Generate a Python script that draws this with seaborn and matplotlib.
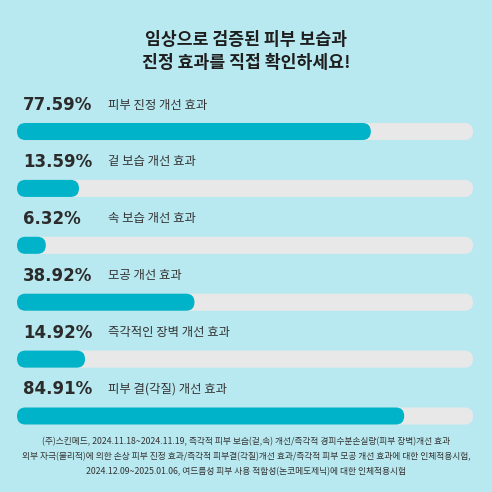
import numpy as np
import pandas as pd
import seaborn as sns
import matplotlib
matplotlib.use("Agg")
import matplotlib.pyplot as plt
from matplotlib.patches import FancyBboxPatch
from matplotlib import transforms

# data
labels = ['피부 진정 개선 효과', '겉 보습 개선 효과', '속 보습 개선 효과',
          '모공 개선 효과', '즉각적인 장벽 개선 효과', '피부 결(각질) 개선 효과']
values = [77.59, 13.59, 6.32, 38.92, 14.92, 84.91]
title_lines = ['임상으로 검증된 피부 보습과', '진정 효과를 직접 확인하세요!']
notes = ['(주)스킨메드, 2024.11.18~2024.11.19, 즉각적 피부 보습(겉,속) 개선/즉각적 경피수분손실량(피부 장벽)개선 효과',
         '외부 자극(물리적)에 의한 손상 피부 진정 효과/즉각적 피부결(각질)개선 효과/즉각적 피부 모공 개선 효과에 대한 인체적용시험,',
         '2024.12.09~2025.01.06, 여드름성 피부 사용 적합성(논코메도제닉)에 대한 인체적용시험']

BG = '#b9e9f0'
FILL = '#00b3c8'
TRACK = '#e8e8e8'
KR = ['Noto Sans CJK KR', 'DejaVu Sans']

sns.set_theme(style='white')
plt.rcParams['font.family'] = KR

W = H = 492
fig = plt.figure(figsize=(4.92, 4.92), dpi=100, facecolor=BG)

# axes placed so that bars sit where the reference has them
x0, x1 = 17, 473
y_first, y_last = 131.5, 416
step = (y_last - y_first) / 5
top_px = y_first - step * 0.5
bot_px = y_last + step * 0.5
ax = fig.add_axes([x0 / W, 1 - bot_px / H, (x1 - x0) / W, (bot_px - top_px) / H])
ax.set_facecolor('none')

df = pd.DataFrame({'label': labels, 'value': values, 'full': [100] * len(values)})
sns.barplot(data=df, x='full', y='label', orient='h', color=TRACK, width=0.3,
            saturation=1, ax=ax)
sns.barplot(data=df, x='value', y='label', orient='h', color=FILL, width=0.3,
            saturation=1, ax=ax)
ax.set_xlim(0, 100)
ax.set_ylim(len(labels) - 0.5, -0.5)
ax.set_axis_off()

# turn the bars into rounded pills
px_x = (x1 - x0) / 100
r_px = 8.5
r = r_px / px_x
asp = (r_px / step) / r
for p in list(ax.patches):
    bx, by = p.get_x(), p.get_y()
    bw, bh = p.get_width(), p.get_height()
    pill = FancyBboxPatch((bx, by), bw, bh,
                          boxstyle=f'round,pad=0,rounding_size={r}',
                          mutation_aspect=asp, fc=p.get_facecolor(), ec='none')
    p.remove()
    ax.add_patch(pill)

trans = transforms.blended_transform_factory(fig.transFigure, ax.transData)
off = 26.5 / step
for i, (lab, v) in enumerate(zip(labels, values)):
    ax.text(23 / W, i - off, f'{v:.2f}%', transform=trans, ha='left', va='center',
            fontsize=12, fontweight='bold', color='#2b2b2b',
            family='DejaVu Sans', clip_on=False)
    ax.text(108 / W, i - off, lab, transform=trans, ha='left', va='center',
            fontsize=8.9, color='#333333', clip_on=False)

fig.text(0.5, 1 - 40 / H, title_lines[0], ha='center', va='center',
         fontsize=12.4, fontweight='bold', color='#1e1e1e')
fig.text(0.5, 1 - 62.5 / H, title_lines[1], ha='center', va='center',
         fontsize=12.4, fontweight='bold', color='#1e1e1e')

for k, line in enumerate(notes):
    fig.text(0.5, 1 - (442 + 15 * k) / H, line, ha='center', va='center',
             fontsize=6.3, color='#333333')

fig.savefig('out.png', dpi=100, facecolor=BG)
